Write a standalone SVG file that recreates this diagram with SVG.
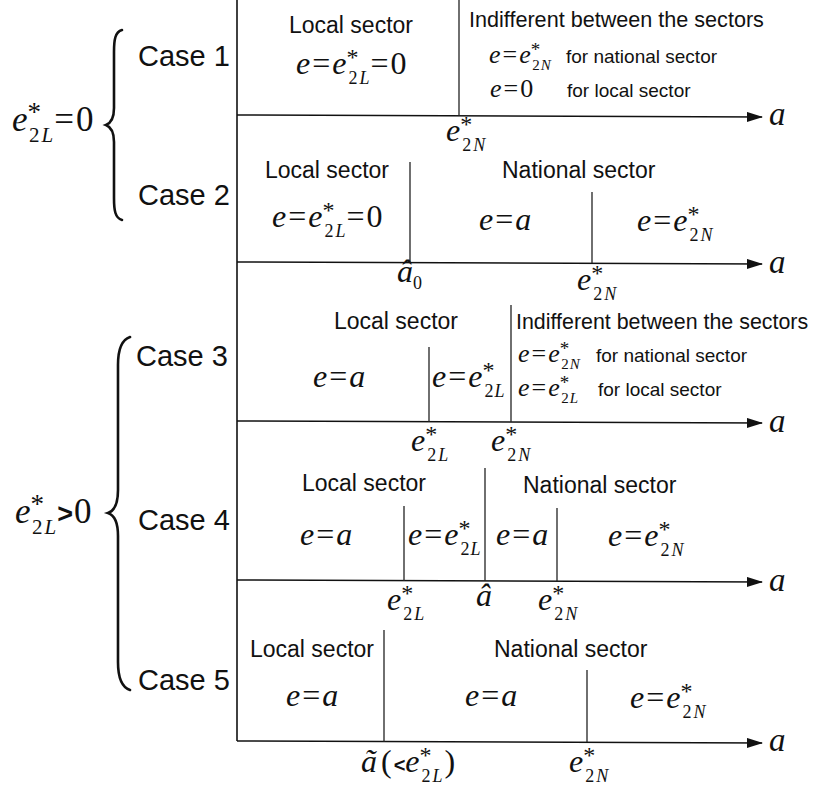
<svg xmlns="http://www.w3.org/2000/svg" width="816" height="787" viewBox="0 0 816 787">
<defs>
<style>
.t{font-family:"Liberation Sans",Arial,sans-serif;font-size:23px;fill:#111}
.ind{font-family:"Liberation Sans",Arial,sans-serif;font-size:21.6px;fill:#111}
.c{font-family:"Liberation Sans",Arial,sans-serif;font-size:29px;fill:#111}
.f{font-family:"Liberation Sans",Arial,sans-serif;font-size:19px;fill:#111}
.m{font-family:"Liberation Serif","Times New Roman",serif;font-size:32px;fill:#111}
.ms{font-family:"Liberation Serif","Times New Roman",serif;font-size:26px;fill:#111}
.ml{font-family:"Liberation Serif","Times New Roman",serif;font-size:35px;fill:#111}
.i{font-style:italic}
.s{font-size:18px}
.st{font-size:24px}
.s2{font-size:15px}
.st2{font-size:19px}
.s3{font-size:21px}
.st3{font-size:27px}
.ax{stroke:#111;stroke-width:1.6;fill:none}
.dv{stroke:#222;stroke-width:1.3;fill:none}
.br{stroke:#111;stroke-width:2.6;fill:none;stroke-linecap:round}
</style>
<marker id="ah" markerWidth="16" markerHeight="10" refX="15" refY="5" orient="auto" markerUnits="userSpaceOnUse">
<path d="M0,0 L16,5 L0,10 Z" fill="#111"/>
</marker>
</defs>

<g id="connectors">
<line class="ax" x1="237" y1="0" x2="237" y2="741"/>
<line class="ax" x1="237" y1="115" x2="762" y2="117" marker-end="url(#ah)"/>
<line class="ax" x1="237" y1="262" x2="762" y2="264" marker-end="url(#ah)"/>
<line class="ax" x1="237" y1="421" x2="762" y2="423" marker-end="url(#ah)"/>
<line class="ax" x1="237" y1="580" x2="762" y2="582" marker-end="url(#ah)"/>
<line class="ax" x1="237" y1="741" x2="762" y2="743" marker-end="url(#ah)"/>
<line class="dv" x1="459" y1="0" x2="459" y2="116"/>
<line class="dv" x1="410" y1="162" x2="410" y2="263"/>
<line class="dv" x1="592" y1="192" x2="592" y2="263"/>
<line class="dv" x1="429" y1="347" x2="429" y2="422"/>
<line class="dv" x1="511" y1="305" x2="511" y2="422"/>
<line class="dv" x1="404" y1="506" x2="404" y2="581"/>
<line class="dv" x1="485" y1="468" x2="485" y2="581"/>
<line class="dv" x1="557" y1="508" x2="557" y2="581"/>
<line class="dv" x1="384" y1="630" x2="384" y2="742"/>
<line class="dv" x1="587" y1="670" x2="587" y2="742"/>
</g>

<g id="brace-zero">
<path class="br" d="M122,30 C115,32 114,40 114,52 L114,108 C114,119 111,123 106,125 C111,127 114,131 114,142 L114,198 C114,210 115,218 122,220"/>
<text class="ml" x="12" y="131"><tspan class="i">e</tspan><tspan class="st3" dy="-10">*</tspan><tspan class="s3" dx="-12" dy="21">2<tspan class="i" dx="2">L</tspan></tspan><tspan dy="-11" dx="1">=</tspan><tspan dx="2">0</tspan></text>
</g>

<g id="brace-positive">
<path class="br" d="M130,337 C121,340 118,350 118,365 L118,490 C118,505 114,511 108,513 C114,515 118,521 118,536 L118,662 C118,677 121,687 130,690"/>
<text class="ml" x="15" y="523"><tspan class="i">e</tspan><tspan class="st3" dy="-10">*</tspan><tspan class="s3" dx="-12" dy="21">2<tspan class="i" dx="2">L</tspan></tspan><tspan dy="-11" dx="1" style="font-family:'Liberation Sans',sans-serif;font-size:27px;font-weight:bold">&gt;</tspan><tspan dx="1">0</tspan></text>
</g>

<g id="case1">
<text class="c" x="138" y="66">Case 1</text>
<text class="t" x="289" y="33">Local sector</text>
<text class="m" x="296" y="74"><tspan class="i">e</tspan><tspan dx="2">=</tspan><tspan class="i" dx="2">e</tspan><tspan class="st" dy="-9">*</tspan><tspan class="s" dx="-10" dy="19">2<tspan class="i" dx="2">L</tspan></tspan><tspan dy="-10" dx="1">=</tspan><tspan dx="2">0</tspan></text>
<text class="ind" x="469" y="27">Indifferent between the sectors</text>
<text class="ms" x="489" y="63"><tspan class="i">e</tspan><tspan dx="2">=</tspan><tspan class="i" dx="2">e</tspan><tspan class="st2" dy="-7">*</tspan><tspan class="s2" dx="-8" dy="14">2<tspan class="i" dx="1">N</tspan></tspan></text>
<text class="f" x="566" y="63">for national sector</text>
<text class="ms" x="490" y="97"><tspan class="i">e</tspan><tspan dx="2">=</tspan><tspan dx="2">0</tspan></text>
<text class="f" x="567" y="97">for local sector</text>
<text class="m" x="446" y="141"><tspan class="i">e</tspan><tspan class="st" dy="-9">*</tspan><tspan class="s" dx="-10" dy="19">2<tspan class="i" dx="2">N</tspan></tspan></text>
<text class="m i" x="769" y="125" style="font-size:33px">a</text>
</g>

<g id="case2">
<text class="c" x="138" y="205">Case 2</text>
<text class="t" x="265" y="178">Local sector</text>
<text class="t" x="502" y="178">National sector</text>
<text class="m" x="272" y="227"><tspan class="i">e</tspan><tspan dx="2">=</tspan><tspan class="i" dx="2">e</tspan><tspan class="st" dy="-9">*</tspan><tspan class="s" dx="-10" dy="19">2<tspan class="i" dx="2">L</tspan></tspan><tspan dy="-10" dx="1">=</tspan><tspan dx="2">0</tspan></text>
<text class="m" x="479" y="230"><tspan class="i">e</tspan><tspan dx="2">=</tspan><tspan class="i" dx="2">a</tspan></text>
<text class="m" x="637" y="231"><tspan class="i">e</tspan><tspan dx="2">=</tspan><tspan class="i" dx="2">e</tspan><tspan class="st" dy="-9">*</tspan><tspan class="s" dx="-10" dy="19">2<tspan class="i" dx="2">N</tspan></tspan></text>
<text class="m" x="397" y="282"><tspan class="i">â</tspan><tspan class="s" dy="7">0</tspan></text>
<text class="m" x="577" y="290"><tspan class="i">e</tspan><tspan class="st" dy="-9">*</tspan><tspan class="s" dx="-10" dy="19">2<tspan class="i" dx="2">N</tspan></tspan></text>
<text class="m i" x="769" y="273" style="font-size:33px">a</text>
</g>

<g id="case3">
<text class="c" x="136" y="366">Case 3</text>
<text class="t" x="334" y="329">Local sector</text>
<text class="ind" x="516" y="329" style="font-size:21.4px">Indifferent between the sectors</text>
<text class="m" x="313" y="387"><tspan class="i">e</tspan><tspan dx="2">=</tspan><tspan class="i" dx="2">a</tspan></text>
<text class="m" x="432" y="387"><tspan class="i">e</tspan><tspan dx="2">=</tspan><tspan class="i" dx="2">e</tspan><tspan class="st" dy="-9">*</tspan><tspan class="s" dx="-10" dy="19">2<tspan class="i" dx="1">L</tspan></tspan></text>
<text class="ms" x="518" y="362"><tspan class="i">e</tspan><tspan dx="2">=</tspan><tspan class="i" dx="2">e</tspan><tspan class="st2" dy="-7">*</tspan><tspan class="s2" dx="-8" dy="14">2<tspan class="i" dx="1">N</tspan></tspan></text>
<text class="f" x="596" y="362">for national sector</text>
<text class="ms" x="518" y="396"><tspan class="i">e</tspan><tspan dx="2">=</tspan><tspan class="i" dx="2">e</tspan><tspan class="st2" dy="-7">*</tspan><tspan class="s2" dx="-8" dy="14">2<tspan class="i" dx="1">L</tspan></tspan></text>
<text class="f" x="598" y="396">for local sector</text>
<text class="m" x="411" y="451"><tspan class="i">e</tspan><tspan class="st" dy="-9">*</tspan><tspan class="s" dx="-10" dy="19">2<tspan class="i" dx="2">L</tspan></tspan></text>
<text class="m" x="491" y="451"><tspan class="i">e</tspan><tspan class="st" dy="-9">*</tspan><tspan class="s" dx="-10" dy="19">2<tspan class="i" dx="2">N</tspan></tspan></text>
<text class="m i" x="769" y="432" style="font-size:33px">a</text>
</g>

<g id="case4">
<text class="c" x="138" y="530">Case 4</text>
<text class="t" x="302" y="491">Local sector</text>
<text class="t" x="523" y="493">National sector</text>
<text class="m" x="300" y="545"><tspan class="i">e</tspan><tspan dx="2">=</tspan><tspan class="i" dx="2">a</tspan></text>
<text class="m" x="408" y="545"><tspan class="i">e</tspan><tspan dx="2">=</tspan><tspan class="i" dx="2">e</tspan><tspan class="st" dy="-9">*</tspan><tspan class="s" dx="-10" dy="19">2<tspan class="i" dx="1">L</tspan></tspan></text>
<text class="m" x="496" y="545"><tspan class="i">e</tspan><tspan dx="2">=</tspan><tspan class="i" dx="2">a</tspan></text>
<text class="m" x="608" y="546"><tspan class="i">e</tspan><tspan dx="2">=</tspan><tspan class="i" dx="2">e</tspan><tspan class="st" dy="-9">*</tspan><tspan class="s" dx="-10" dy="19">2<tspan class="i" dx="2">N</tspan></tspan></text>
<text class="m" x="387" y="610"><tspan class="i">e</tspan><tspan class="st" dy="-9">*</tspan><tspan class="s" dx="-10" dy="19">2<tspan class="i" dx="2">L</tspan></tspan></text>
<text class="m i" x="476" y="606">â</text>
<text class="m" x="538" y="610"><tspan class="i">e</tspan><tspan class="st" dy="-9">*</tspan><tspan class="s" dx="-10" dy="19">2<tspan class="i" dx="2">N</tspan></tspan></text>
<text class="m i" x="769" y="591" style="font-size:33px">a</text>
</g>

<g id="case5">
<text class="c" x="138" y="690">Case 5</text>
<text class="t" x="250" y="657">Local sector</text>
<text class="t" x="494" y="657">National sector</text>
<text class="m" x="286" y="706"><tspan class="i">e</tspan><tspan dx="2">=</tspan><tspan class="i" dx="2">a</tspan></text>
<text class="m" x="465" y="706"><tspan class="i">e</tspan><tspan dx="2">=</tspan><tspan class="i" dx="2">a</tspan></text>
<text class="m" x="630" y="708"><tspan class="i">e</tspan><tspan dx="2">=</tspan><tspan class="i" dx="2">e</tspan><tspan class="st" dy="-9">*</tspan><tspan class="s" dx="-10" dy="19">2<tspan class="i" dx="2">N</tspan></tspan></text>
<text class="m" x="361" y="772"><tspan class="i">ã</tspan><tspan dx="4">(</tspan><tspan dx="2" style="font-family:'Liberation Sans',sans-serif;font-size:20px;font-weight:bold">&lt;</tspan><tspan class="i">e</tspan><tspan class="st" dy="-9">*</tspan><tspan class="s" dx="-10" dy="19">2<tspan class="i" dx="2">L</tspan></tspan><tspan dy="-10" dx="2">)</tspan></text>
<text class="m" x="569" y="772"><tspan class="i">e</tspan><tspan class="st" dy="-9">*</tspan><tspan class="s" dx="-10" dy="19">2<tspan class="i" dx="2">N</tspan></tspan></text>
<text class="m i" x="769" y="751" style="font-size:33px">a</text>
</g>
</svg>
